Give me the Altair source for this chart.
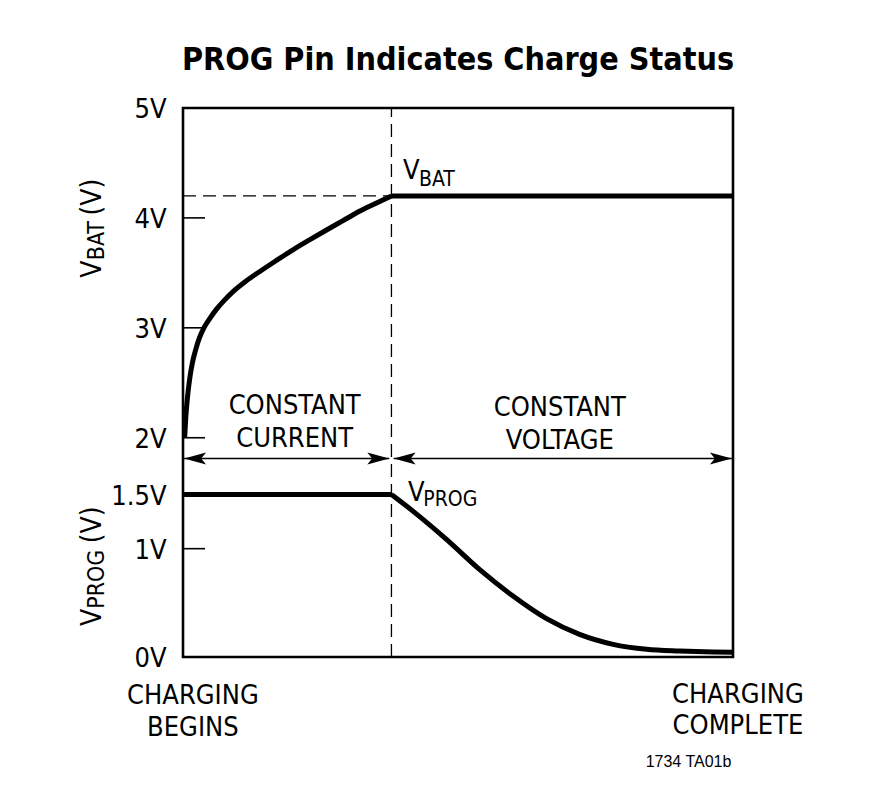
import altair as alt
import pandas as pd

TITLE = "PROG Pin Indicates Charge Status"

# ---------------- data ----------------
# time in arbitrary units: 0 = charging begins, 100 = charging complete
T_CC_END = 37.9          # end of constant-current phase

# V_BAT during constant current (time, volts)
vbat_t = [0.3, 0.5, 0.8, 1.2, 1.7, 2.3, 3.0, 3.8, 4.8, 6.1, 7.5, 9.1,
          11.3, 13.9, 16.9, 20.0, 23.0, 26.1, 29.1, 32.1, 35.0, 37.9]
vbat_v = [2.0, 2.18, 2.36, 2.53, 2.68, 2.80, 2.91, 3.00, 3.08, 3.17, 3.25, 3.33,
          3.42, 3.51, 3.61, 3.71, 3.80, 3.89, 3.975, 4.06, 4.13, 4.2]
VBAT_FINAL = 4.2

# V_PROG during constant voltage (time, volts)
vprog_t = [37.9, 41.8, 47.9, 53.9, 60.0, 66.1, 72.1, 78.2, 84.3, 90.3, 96.4, 100.0]
vprog_v = [1.5, 1.347, 1.086, 0.809, 0.563, 0.354, 0.209, 0.117, 0.071, 0.055, 0.046, 0.044]
VPROG_CC = 1.5

vbat_ticks = [5, 4, 3, 2]
vbat_tick_labels = ["5V", "4V", "3V", "2V"]
vprog_ticks = [1.5, 1, 0]
vprog_tick_labels = ["1.5V", "1V", "0V"]

# The two stacked panels share one vertical scale: V_PROG volts are used as is,
# V_BAT volts are shifted into the upper part of the frame.
U_TOP = 5.068
VBAT_BASE = 2.024
VBAT_GAIN = 1.0148


def ub(v):
    return VBAT_BASE + (v - 2) * VBAT_GAIN


FONT = "DejaVu Sans Condensed, Liberation Sans Narrow, sans-serif"
TFONT = "DejaVu Sans Condensed, Liberation Sans Narrow, sans-serif"
NOTE_FONT = "Liberation Sans, Arial, sans-serif"
FS = 27
FS_SUB = 21
FS_AX = 28
FS_AX_SUB = 23

xs = alt.Scale(domain=[0, 100], nice=False, zero=False)
ys = alt.Scale(domain=[0, U_TOP], nice=False, zero=False)
X = lambda f: alt.X(f, type="quantitative", scale=xs, axis=None)
Y = lambda f: alt.Y(f, type="quantitative", scale=ys, axis=None)

# ---------------- curves ----------------
rows = []
for t, v in zip(vbat_t, vbat_v):
    rows.append({"seg": "vbat_cc", "t": t, "u": ub(v)})
for t in [T_CC_END, 100]:
    rows.append({"seg": "vbat_cv", "t": t, "u": ub(VBAT_FINAL)})
for t in [0, T_CC_END]:
    rows.append({"seg": "vprog_cc", "t": t, "u": VPROG_CC})
for t, v in zip(vprog_t, vprog_v):
    rows.append({"seg": "vprog_cv", "t": t, "u": v})
curves = pd.DataFrame(rows)

lines = alt.Chart(curves).mark_line(
    interpolate="monotone", strokeWidth=5, color="black", strokeJoin="round"
).encode(x=X("t"), y=Y("u"), detail="seg:N")

# ---------------- dashed guides ----------------
guides = pd.DataFrame([
    {"t": 0, "t2": T_CC_END, "u": ub(VBAT_FINAL), "u2": ub(VBAT_FINAL)},
    {"t": T_CC_END, "t2": T_CC_END, "u": 0, "u2": U_TOP},
])
dashed = alt.Chart(guides).mark_rule(
    color="black", strokeWidth=1.3, strokeDash=[13, 7]
).encode(x=X("t"), x2="t2", y=Y("u"), y2="u2")

# ---------------- inward ticks and tick labels ----------------
tick_u = [ub(v) for v in vbat_ticks] + list(vprog_ticks)
tick_txt = vbat_tick_labels + vprog_tick_labels
ticks_df = pd.DataFrame({"u": tick_u, "label": tick_txt, "t0": 0, "t1": 4, "tl": -3.0})
tick_marks = alt.Chart(ticks_df[ticks_df["label"].isin(["4V", "3V", "2V", "1.5V", "1V"])]).mark_rule(
    color="black", strokeWidth=1.6
).encode(x=X("t0"), x2="t1", y=Y("u"))
tick_labels = alt.Chart(ticks_df).mark_text(
    font=FONT, fontSize=FS, align="right", baseline="middle", dy=2, color="black"
).encode(x=X("tl"), y=Y("u"), text="label:N")

# ---------------- phase arrows ----------------
U_ARROW = 1.833
arrows = pd.DataFrame([
    {"t": 0.2, "t2": T_CC_END - 0.4},
    {"t": T_CC_END + 0.4, "t2": 99.8},
])
arrow_lines = alt.Chart(arrows).transform_calculate(u=str(U_ARROW)).mark_rule(
    color="black", strokeWidth=1.4
).encode(x=X("t"), x2="t2", y=Y("u"))

RIGHT_HEAD = "M0,0 L-2,-0.55 L-1.55,0 L-2,0.55 Z"
LEFT_HEAD = "M0,0 L2,-0.55 L1.55,0 L2,0.55 Z"
heads = pd.DataFrame([
    {"t": 0.2, "shape": LEFT_HEAD},
    {"t": T_CC_END - 0.4, "shape": RIGHT_HEAD},
    {"t": T_CC_END + 0.4, "shape": LEFT_HEAD},
    {"t": 99.8, "shape": RIGHT_HEAD},
])
arrow_heads = alt.Chart(heads).transform_calculate(u=str(U_ARROW)).mark_point(
    filled=True, size=484, color="black", opacity=1, strokeWidth=0
).encode(x=X("t"), y=Y("u"), shape=alt.Shape("shape:N", scale=None))

# ---------------- annotations ----------------
center_text = pd.DataFrame([
    {"t": 20.3, "u": 2.240, "text": "CONSTANT"},
    {"t": 20.3, "u": 1.937, "text": "CURRENT"},
    {"t": 68.5, "u": 2.223, "text": "CONSTANT"},
    {"t": 68.5, "u": 1.916, "text": "VOLTAGE"},
    {"t": 1.8, "u": -0.436, "text": "CHARGING"},
    {"t": 1.8, "u": -0.729, "text": "BEGINS"},
    {"t": 100.9, "u": -0.421, "text": "CHARGING"},
    {"t": 100.9, "u": -0.713, "text": "COMPLETE"},
])
center_labels = alt.Chart(center_text).mark_text(
    font=FONT, fontSize=FS, align="center", baseline="alphabetic", color="black"
).encode(x=X("t"), y=Y("u"), text="text:N")

main_v = pd.DataFrame([
    {"t": 40.0, "u": ub(4.355), "text": "V"},
    {"t": 40.9, "u": 1.439, "text": "V"},
])
main_v_labels = alt.Chart(main_v).mark_text(
    font=FONT, fontSize=FS, align="left", baseline="alphabetic", color="black"
).encode(x=X("t"), y=Y("u"), text="text:N")

subs = pd.DataFrame([
    {"t": 42.9, "u": ub(4.294), "text": "BAT"},
    {"t": 43.7, "u": 1.393, "text": "PROG"},
])
sub_labels = alt.Chart(subs).mark_text(
    font=FONT, fontSize=FS_SUB, align="left", baseline="alphabetic", color="black"
).encode(x=X("t"), y=Y("u"), text="text:N")

# rotated axis titles: V + subscript + (V)
rot_main = pd.DataFrame([
    {"t": -14.9, "u": 3.500, "text": "V"},
    {"t": -14.9, "u": 0.286, "text": "V"},
])
rot_main_labels = alt.Chart(rot_main).mark_text(
    font=FONT, fontSize=FS_AX, align="left", baseline="alphabetic", angle=270, color="black"
).encode(x=X("t"), y=Y("u"), text="text:N")

rot_sub = pd.DataFrame([
    {"t": -14.4, "u": 3.663, "text": "BAT"},
    {"t": -14.4, "u": 0.445, "text": "PROG"},
])
rot_sub_labels = alt.Chart(rot_sub).mark_text(
    font=FONT, fontSize=FS_AX_SUB, align="left", baseline="alphabetic", angle=270, color="black"
).encode(x=X("t"), y=Y("u"), text="text:N")

rot_unit = pd.DataFrame([
    {"t": -14.9, "u": 4.075, "text": "(V)"},
    {"t": -14.9, "u": 1.050, "text": "(V)"},
])
rot_unit_labels = alt.Chart(rot_unit).mark_text(
    font=FONT, fontSize=FS_AX, align="left", baseline="alphabetic", angle=270, color="black"
).encode(x=X("t"), y=Y("u"), text="text:N")

note = pd.DataFrame([{"t": 99.7, "u": -1.02, "text": "1734 TA01b"}])
note_label = alt.Chart(note).mark_text(
    font=NOTE_FONT, fontSize=16, align="right", baseline="alphabetic", color="black"
).encode(x=X("t"), y=Y("u"), text="text:N")

chart = alt.layer(
    dashed, tick_marks, arrow_lines, arrow_heads, lines,
    tick_labels, center_labels, main_v_labels, sub_labels,
    rot_main_labels, rot_sub_labels, rot_unit_labels, note_label,
).properties(
    width=550,
    height=549,
    autosize="none",
    background="white",
    padding={"left": 175, "top": 100, "right": 110, "bottom": 140},
    title=alt.Title(
        TITLE, font=TFONT, fontSize=32, fontWeight="bold", color="black",
        anchor="middle", frame="group", baseline="alphabetic", offset=24, dy=30,
    ),
).configure_view(
    stroke="black", strokeWidth=2.6
)

chart.save("out.html", embed_options={"renderer": "svg", "actions": False})
